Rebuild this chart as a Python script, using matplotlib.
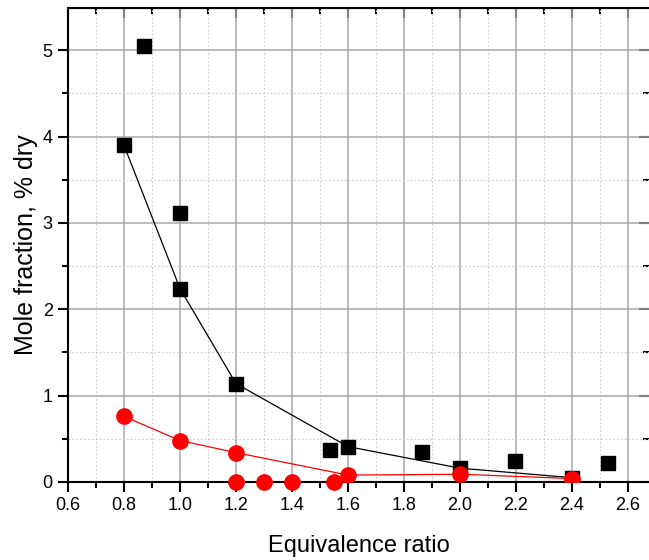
# -*- coding: utf-8 -*-

# Mole fraction vs equivalence ratio

import numpy as np
import matplotlib.pyplot as plt
from matplotlib.ticker import MultipleLocator

plt.rcParams['font.family'] = ['Liberation Sans', 'DejaVu Sans']

# connected black series
phi_black = [0.8, 1.0, 1.2, 1.6, 2.0, 2.4]
x_black = [3.90, 2.24, 1.14, 0.41, 0.16, 0.05]

# scattered black points
phi_black_pts = [0.87, 1.0, 1.535, 1.865, 2.195, 2.53]
x_black_pts = [5.05, 3.12, 0.37, 0.35, 0.24, 0.22]

# connected red series
phi_red = [0.8, 1.0, 1.2, 1.6, 2.0, 2.4]
x_red = [0.76, 0.48, 0.34, 0.08, 0.09, 0.04]

# scattered red points at zero
phi_red_pts = [1.2, 1.3, 1.4, 1.55]
x_red_pts = [0.0, 0.0, 0.0, 0.0]

fig = plt.figure(figsize=(6.49, 5.6), dpi=100)
ax = fig.add_axes([68/649, 78/560, 1 - 68/649, (482 - 8)/560])

ax.plot(phi_black, x_black, color='black', lw=0.9, marker='s', ms=9.5, zorder=3)
ax.plot(phi_black_pts, x_black_pts, ls='none', color='black', marker='s', ms=9.5, zorder=3)
ax.plot(phi_red, x_red, color='red', lw=0.9, marker='o', ms=11, zorder=4)
ax.plot(phi_red_pts, x_red_pts, ls='none', color='red', marker='o', ms=11, zorder=4, clip_on=False)

ax.set_xlim(0.6, 0.6 + 581/280)
ax.set_ylim(0, 5.49)

ax.xaxis.set_major_locator(MultipleLocator(0.2))
ax.xaxis.set_minor_locator(MultipleLocator(0.1))
ax.yaxis.set_major_locator(MultipleLocator(1))
ax.yaxis.set_minor_locator(MultipleLocator(0.5))
ax.set_xticks(np.arange(0.6, 2.61, 0.2))
ax.set_xticklabels(['%.1f' % v for v in np.arange(0.6, 2.61, 0.2)])

ax.grid(which='major', color='#a8a8a8', lw=1.1, ls='-')
ax.grid(which='minor', color='#cccccc', lw=0.8, ls=(0, (1.5, 2)))
ax.set_axisbelow(True)

for s in ax.spines.values():
    s.set_linewidth(1.5)
ax.spines['right'].set_visible(False)

ax.tick_params(which='both', direction='out', top=False, right=False,
               labelsize=13, width=1.5)
ax.tick_params(which='major', length=7, pad=4)
ax.tick_params(which='minor', length=4)

# inward ticks on top and right
ax2 = ax.secondary_xaxis('top')
ax2.xaxis.set_major_locator(MultipleLocator(0.2))
ax2.xaxis.set_minor_locator(MultipleLocator(0.1))
ax2.tick_params(which='both', direction='in', labeltop=False, width=1.5)
ax2.tick_params(which='major', length=7)
ax2.tick_params(which='minor', length=4)
ax3 = ax.secondary_yaxis('right')
ax3.spines['right'].set_visible(False)
ax3.yaxis.set_major_locator(MultipleLocator(1))
ax3.yaxis.set_minor_locator(MultipleLocator(0.5))
ax3.tick_params(which='both', direction='in', labelright=False, width=1.5)
ax3.tick_params(which='major', length=7)
ax3.tick_params(which='minor', length=4)

ax.set_xlabel('Equivalence ratio', fontsize=17, labelpad=15)
ax.set_ylabel('Mole fraction, % dry', fontsize=18, labelpad=3)

fig.savefig('out.png', dpi=100)
